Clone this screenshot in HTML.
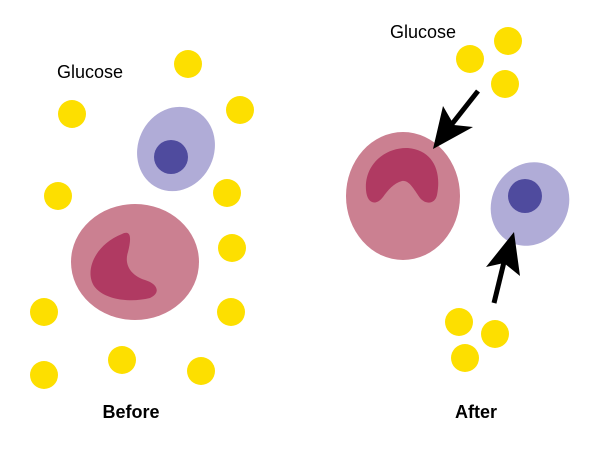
<!DOCTYPE html>
<html><head><style>body{margin:0;background:#fff}</style></head><body>
<svg width="600" height="450" viewBox="0 0 600 450" xmlns="http://www.w3.org/2000/svg">
<g fill="#fddf00">
<circle cx="188" cy="64" r="14"/><circle cx="72" cy="114" r="14"/><circle cx="240" cy="110" r="14"/>
<circle cx="58" cy="196" r="14"/><circle cx="227" cy="193" r="14"/><circle cx="232" cy="248" r="14"/>
<circle cx="44" cy="312" r="14"/><circle cx="231" cy="312" r="14"/><circle cx="122" cy="360" r="14"/>
<circle cx="201" cy="371" r="14"/><circle cx="44" cy="375" r="14"/>
<circle cx="470" cy="59" r="14"/><circle cx="508" cy="41" r="14"/><circle cx="505" cy="84" r="14"/>
<circle cx="459" cy="322" r="14"/><circle cx="495" cy="334" r="14"/><circle cx="465" cy="358" r="14"/>
</g>
<ellipse cx="176" cy="149" rx="38" ry="43" transform="rotate(25 176 149)" fill="#b0acd7"/>
<circle cx="171" cy="157" r="17" fill="#4f4b9e"/>
<ellipse cx="135" cy="262" rx="64" ry="58" fill="#cb8091"/>
<path d="M122 234 C132 229 131 240 128 252 C124 264 130 275 145 280 C158 284 161 293 150 298 C130 303 104 300 94 286 C84 270 96 244 122 234 Z" fill="#b03a62"/>
<ellipse cx="403" cy="196" rx="57" ry="64" fill="#cb8091"/>
<path d="M366 190 C364 165 385 147 408 148 C432 150 442 170 437 195 C435 204 426 205 420 198 C413 188 409 180 402 181 C394 183 388 190 383 197 C376 206 367 204 366 190 Z" fill="#b03a62"/>
<ellipse cx="530" cy="204" rx="38" ry="43" transform="rotate(30 530 204)" fill="#b0acd7"/>
<circle cx="525" cy="196" r="17" fill="#4f4b9e"/>
<line x1="478" y1="91" x2="452" y2="124" stroke="#000" stroke-width="5"/>
<polygon points="433,149 443,106 454,125 473,127" fill="#000"/>
<line x1="494" y1="303" x2="504" y2="262" stroke="#000" stroke-width="5"/>
<polygon points="514,232 520,276 504,263 486,267" fill="#000"/>
<g font-family="Liberation Sans, sans-serif" font-size="18" fill="#000">
<text x="57" y="78">Glucose</text>
<text x="390" y="38">Glucose</text>
<text x="131" y="418" text-anchor="middle" font-weight="bold">Before</text>
<text x="476" y="418" text-anchor="middle" font-weight="bold">After</text>
</g>
</svg>
</body></html>
